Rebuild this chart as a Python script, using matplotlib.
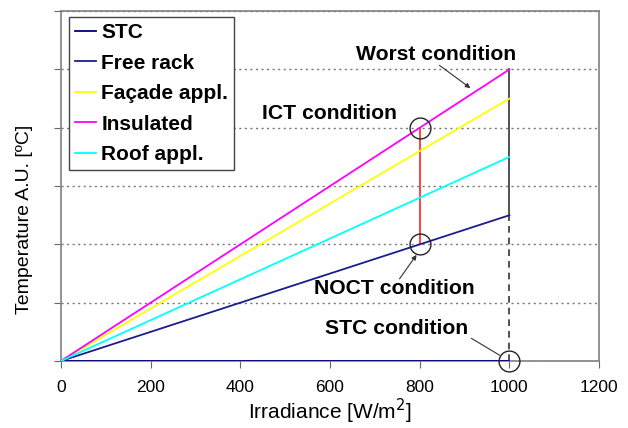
import matplotlib
matplotlib.use("Agg")
import matplotlib.pyplot as plt
import numpy as np

plt.rcParams['font.family'] = ['Liberation Sans', 'DejaVu Sans']

irradiance = [0, 1000]
series_names = ["STC", "Free rack", "Façade appl.", "Insulated", "Roof appl."]
series_values = [
    [0, 0],
    [0, 25],
    [0, 45],
    [0, 50],
    [0, 35],
]
series_colors = ["#000080", "#1c1c8f", "#ffff00", "#ff00ff", "#00ffff"]

x_ticks = [0, 200, 400, 600, 800, 1000, 1200]
y_ticks = [0, 10, 20, 30, 40, 50, 60]

# Condition points
ict_point = (800, 40)
noct_point = (800, 20)
stc_point = (1000, 0)
worst_top = (1000, 50)
worst_bottom = (1000, 25)

fig = plt.figure(figsize=(6.28, 4.28), dpi=100)
ax = fig.add_axes([0.097, 0.1565, 0.857, 0.8175])

for name, vals, c in zip(series_names, series_values, series_colors):
    ax.plot(irradiance, vals, color=c, lw=1.3, label=name, zorder=3)

# vertical connectors
ax.plot([ict_point[0], noct_point[0]], [ict_point[1], noct_point[1]], color="#ff2020", lw=1.2, zorder=2)
ax.plot([worst_top[0], worst_bottom[0]], [worst_top[1], worst_bottom[1]], color="#333333", lw=1.2, zorder=2)
ax.plot([stc_point[0], worst_bottom[0]], [stc_point[1], worst_bottom[1]], color="#333333", lw=1.2,
        ls=(0, (4, 3)), zorder=2)

# circles
for px, py in [ict_point, noct_point, stc_point]:
    ax.plot([px], [py], marker='o', ms=15, mfc='none', mec='#222222', mew=1.0, zorder=5, clip_on=False)

ax.set_xlim(0, 1200)
ax.set_ylim(0, 60)
ax.set_xticks(x_ticks)
ax.set_yticks(y_ticks)
ax.set_yticklabels([])
ax.tick_params(axis='both', direction='out', length=5, color='#666666', labelsize=12.5, pad=9)
for s in ax.spines.values():
    s.set_color('#808080')
    s.set_linewidth(1.2)
ax.yaxis.grid(True, ls=(0, (1.5, 2.5)), color='#777777', lw=1.0)
ax.set_axisbelow(True)

ax.set_xlabel("Irradiance [W/m$^2$]", fontsize=15)
ax.xaxis.label.set_va('bottom')
ax.xaxis.set_label_coords(0.5, -0.186)
ax.set_ylabel("Temperature A.U. [ºC]", fontsize=14)
ax.yaxis.label.set_va('center')
ax.yaxis.set_label_coords(-0.067, 0.405)

bold = dict(fontsize=15.2, fontweight='bold', ha='center', va='center')
head = dict(arrowstyle='-|>', color='#333333', lw=0.8, mutation_scale=7, shrinkA=0, shrinkB=0)
plain = dict(arrowstyle='-', color='#333333', lw=0.8, shrinkA=0, shrinkB=0)

ax.text(837, 52.5, "Worst condition", **bold)
ax.annotate("", xy=(913, 46.8), xytext=(844, 50.7), arrowprops=head)
ax.text(599, 42.5, "ICT condition", **bold)
ax.text(744, 12.5, "NOCT condition", **bold)
ax.annotate("", xy=(793, 18.2), xytext=(755, 14.1), arrowprops=head)
ax.text(748, 5.66, "STC condition", **bold)
ax.annotate("", xy=(978, 1.0), xytext=(915, 3.9), arrowprops=plain)

leg = ax.legend(loc='upper left', bbox_to_anchor=(0.015, 0.983), fancybox=False, framealpha=1,
                edgecolor='#444444', prop=dict(weight='bold', size=15),
                handlelength=1.0, handletextpad=0.25, labelspacing=0.55, borderpad=0.3,
                borderaxespad=0)
leg.get_frame().set_linewidth(1.0)

fig.savefig("out.png", dpi=100)
